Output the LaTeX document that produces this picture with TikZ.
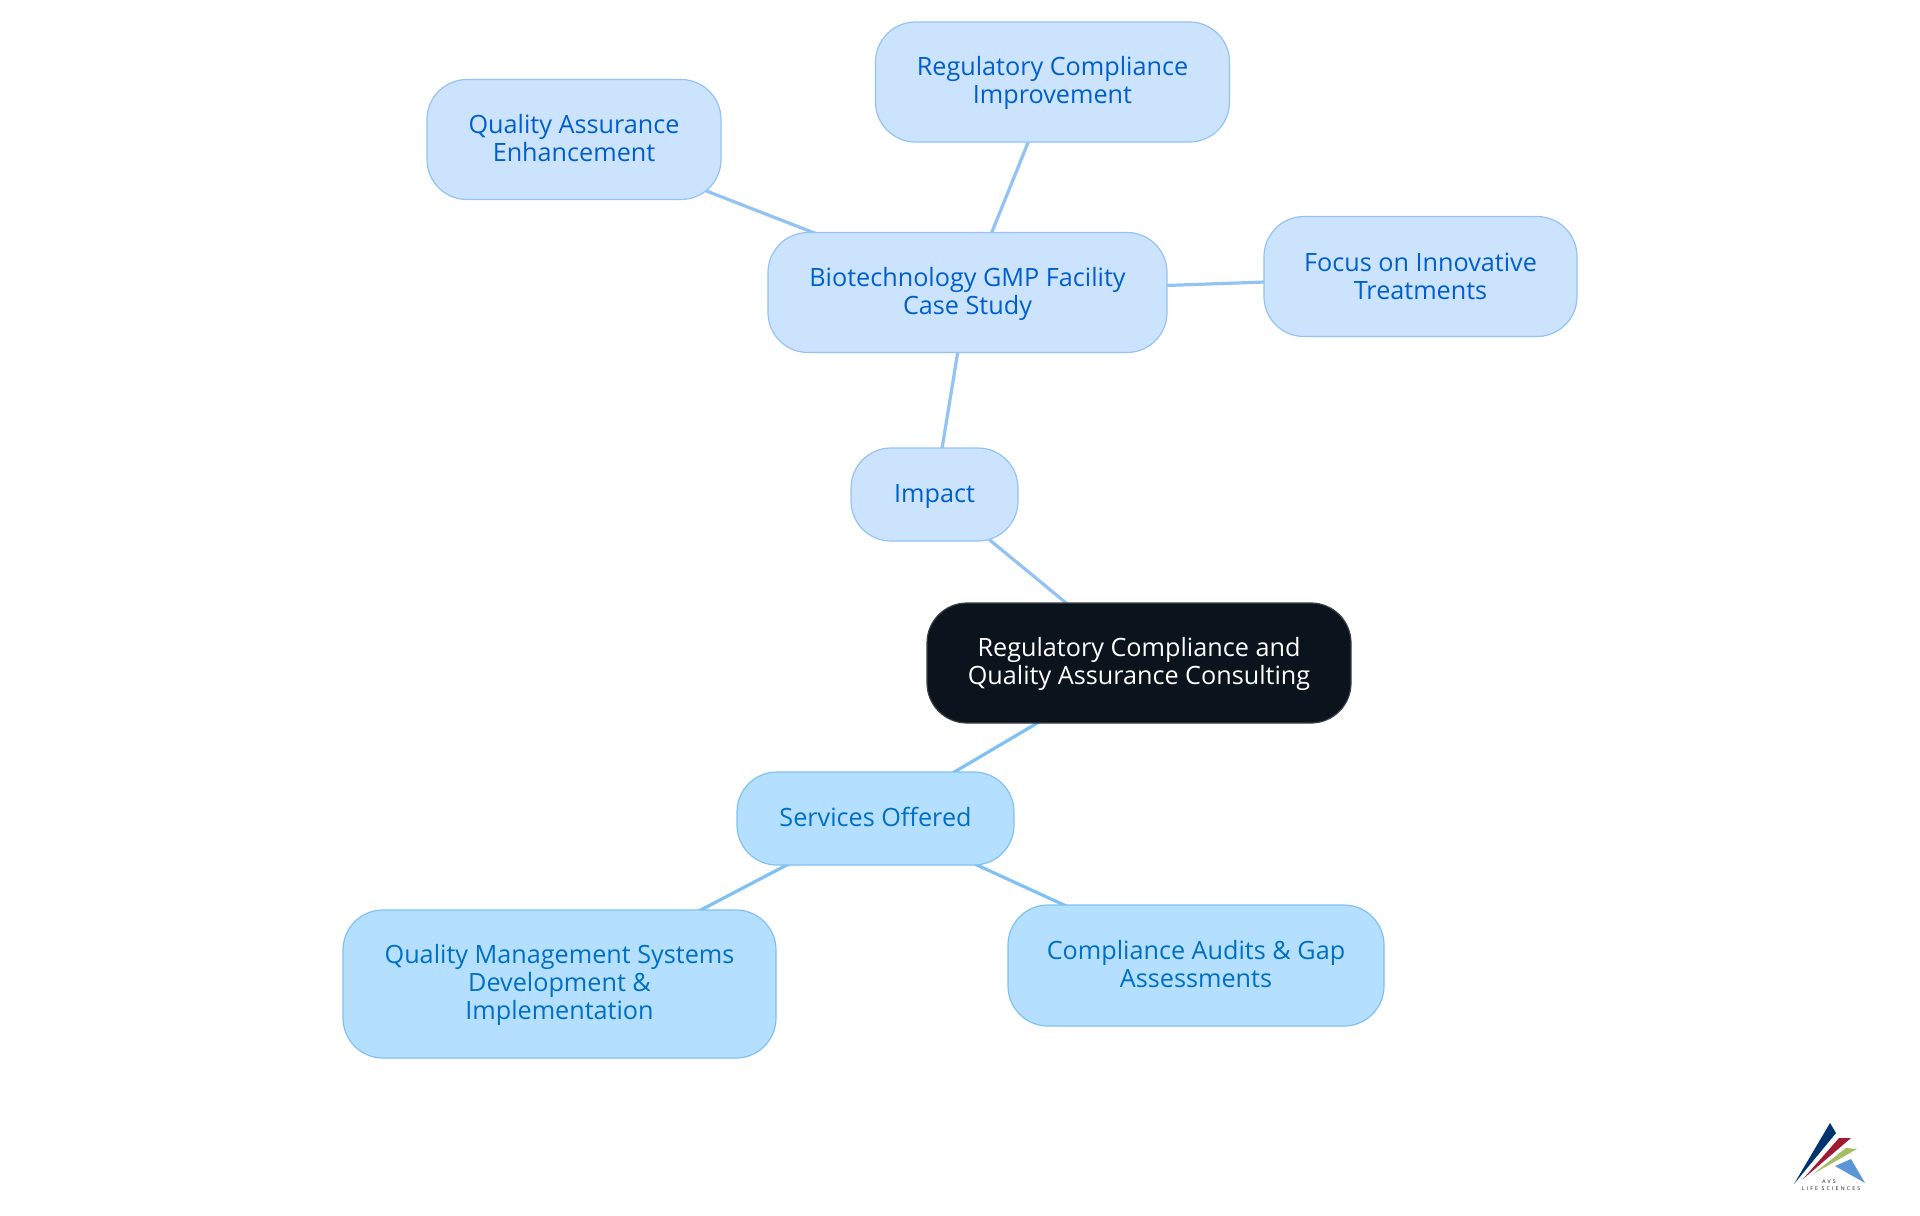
\documentclass[tikz,border=0pt]{standalone}
\usepackage{fontspec}
\setmainfont{Open Sans}
\newfontfamily\logofont[LetterSpace=42]{Open Sans}
\usepackage{tikz}
\usetikzlibrary{backgrounds}
\definecolor{rootFill}{HTML}{0B131C}
\definecolor{rootEdge}{HTML}{3A4048}
\definecolor{impFill}{HTML}{CCE3FD}
\definecolor{impEdge}{HTML}{93C3F5}
\definecolor{impText}{HTML}{005FCC}
\definecolor{srvFill}{HTML}{B5DFFF}
\definecolor{srvEdge}{HTML}{7FC1F2}
\definecolor{srvText}{HTML}{006FC4}
\tikzset{%
  box/.style={rounded corners=20pt, line width=0.6pt, align=center, inner sep=0pt, text depth=1.8pt,
    font=\fontsize{12.6pt}{14pt}\selectfont},
  impBox/.style={box, draw=impEdge, fill=impFill, text=impText},
  srvBox/.style={box, draw=srvEdge, fill=srvFill, text=srvText},
  rootBox/.style={box, draw=rootEdge, fill=rootFill, text=white},
  impLink/.style={impEdge, line width=1.6pt},
  srvLink/.style={srvEdge, line width=1.6pt},
  logoText/.style={inner sep=0pt, text=rootFill, font=\logofont\fontsize{2.6pt}{3pt}\selectfont},
}
\begin{document}
\begin{tikzpicture}[x=0.5pt,y=-0.5pt]
\useasboundingbox (0,0) rectangle (1920,1215);
\node[rootBox, minimum width=212pt, minimum height=60pt] (root) at (1139,663) {Regulatory Compliance and\\Quality Assurance Consulting};
\node[impBox, minimum width=83.5pt, minimum height=46.5pt, text depth=0.6pt] (impact) at (934.5,494.5) {Impact};
\node[impBox, minimum width=199.5pt, minimum height=60pt] (biotech) at (967.5,292.5) {Biotechnology GMP Facility\\Case Study};
\node[impBox, minimum width=147pt, minimum height=60pt] (quality) at (574,139.5) {Quality Assurance\\Enhancement};
\node[impBox, minimum width=177pt, minimum height=60pt] (regulatory) at (1052.5,82) {Regulatory Compliance\\Improvement};
\node[impBox, minimum width=156.5pt, minimum height=60pt, text depth=0.6pt] (focus) at (1420.5,276.5) {Focus on Innovative\\Treatments};
\node[srvBox, minimum width=138.5pt, minimum height=46.5pt, text depth=1.4pt] (services) at (875.5,818.5) {Services Offered};
\node[srvBox, minimum width=216.5pt, minimum height=74pt, text depth=1.8pt] (qms) at (559.5,984) {Quality Management Systems\\Development \&\\Implementation};
\node[srvBox, minimum width=188pt, minimum height=60.5pt, text depth=1.2pt] (audits) at (1196,965.5) {Compliance Audits \& Gap\\Assessments};
\begin{scope}[on background layer]
\draw[impLink] (root.center) -- (impact.center);
\draw[impLink] (impact.center) -- (biotech.center);
\draw[impLink] (biotech.center) -- (quality.center);
\draw[impLink] (biotech.center) -- (regulatory.center);
\draw[impLink] (biotech.center) -- (focus.center);
\draw[srvLink] (root.center) -- (services.center);
\draw[srvLink] (services.center) -- (qms.center);
\draw[srvLink] (services.center) -- (audits.center);
\end{scope}
% logo
\fill[fill={rgb,255:red,0;green,52;blue,110}] (1794,1184) -- (1830,1123) -- (1836,1133) -- cycle;
\fill[fill={rgb,255:red,160;green,27;blue,50}] (1803,1179) -- (1839,1138) -- (1851,1138) -- cycle;
\fill[fill={rgb,255:red,165;green,190;blue,95}] (1813,1174) -- (1846,1148) -- (1857,1149) -- cycle;
\fill[fill={rgb,255:red,90;green,150;blue,215}] (1835,1166) -- (1851,1159) -- (1865,1183) -- cycle;
\node[logoText] (avs) at (1829,1182) {AVS};
\node[logoText] (life) at (1831,1189) {LIFE SCIENCES};
\end{tikzpicture}
\end{document}
